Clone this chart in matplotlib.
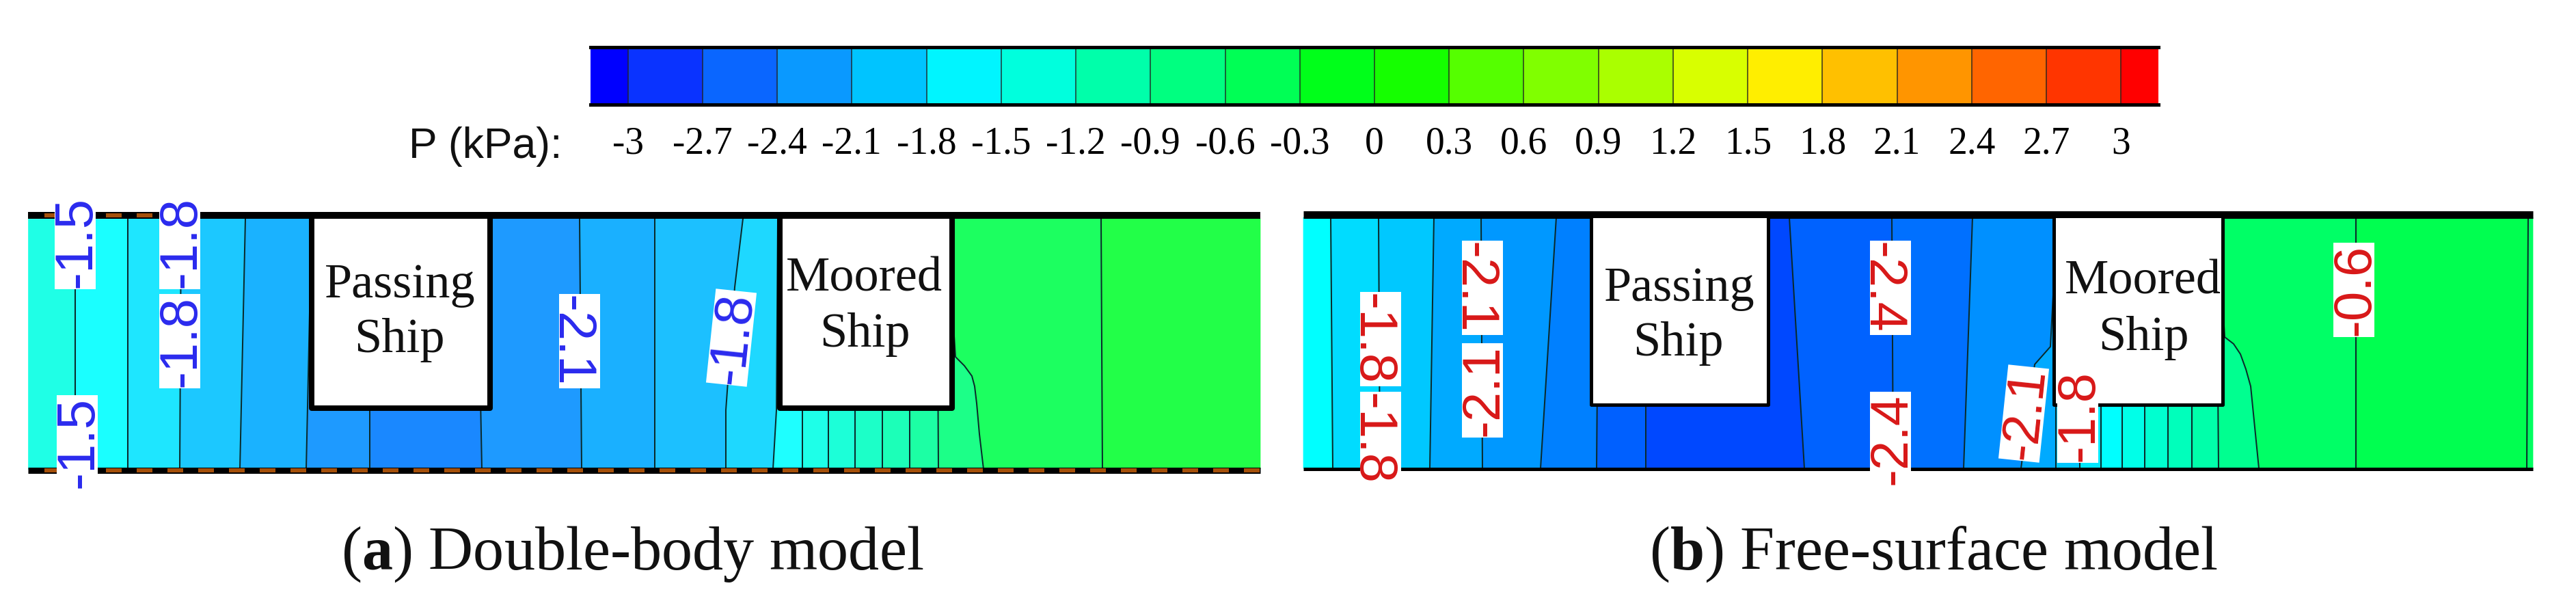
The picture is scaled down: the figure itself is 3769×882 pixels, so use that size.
""" Pressure contours around a passing ship and a moored ship,
    double-body model against free-surface model.
"""
import matplotlib
matplotlib.use('Agg')
import matplotlib.pyplot as plt
import numpy as np

plt.rcParams['font.family'] = ['Liberation Sans', 'DejaVu Sans']
plt.rcParams['lines.scale_dashes'] = False
plt.rcParams['mathtext.fontset'] = 'custom'
plt.rcParams['mathtext.bf'] = 'Liberation Serif:bold'
plt.rcParams['mathtext.rm'] = 'Liberation Serif'

W, H = 3769, 882
PX = 0.72   # one picture pixel in points at dpi 100

# colour scale
P_TICKS = [-3, -2.7, -2.4, -2.1, -1.8, -1.5, -1.2, -0.9, -0.6, -0.3, 0,
           0.3, 0.6, 0.9, 1.2, 1.5, 1.8, 2.1, 2.4, 2.7, 3]
P_EDGES = [-3.15] + P_TICKS + [3.15]
P_COLORS = ['#0000ff', '#0a33ff', '#0a66ff', '#0a99ff', '#00c4ff', '#00f5ff',
            '#00ffdd', '#00ffaa', '#00ff80', '#00ff55', '#00ff1a', '#15ff00',
            '#55ff00', '#80ff00', '#aaff00', '#d8ff00', '#ffee00', '#ffc000',
            '#ff9500', '#ff6500', '#ff3500', '#ff0000']

# contour lines of panel a, left to right: (x positions, y positions)
A_TOP, A_BOT = 320, 686
A_LINES = [
    ([41, 41], [A_TOP, A_BOT]),
    ([110, 110], [A_TOP, A_BOT]),
    ([187, 187], [A_TOP, A_BOT]),
    ([265, 263], [A_TOP, A_BOT]),
    ([359, 351], [A_TOP, A_BOT]),
    ([456, 448], [A_TOP, A_BOT]),
    ([541, 541], [A_TOP, A_BOT]),
    ([698, 705], [A_TOP, A_BOT]),
    ([848, 851], [A_TOP, A_BOT]),
    ([958, 958], [A_TOP, A_BOT]),
    ([1087, 1075, 1062, 1062], [A_TOP, 420, 600, A_BOT]),
    ([1138, 1136, 1131], [A_TOP, 600, A_BOT]),
    ([1174, 1174], [A_TOP, A_BOT]),
    ([1212, 1212], [A_TOP, A_BOT]),
    ([1251, 1251], [A_TOP, A_BOT]),
    ([1291, 1291], [A_TOP, A_BOT]),
    ([1331, 1331], [A_TOP, A_BOT]),
    ([1371, 1373], [A_TOP, A_BOT]),
    ([1385, 1398, 1411, 1422, 1426, 1429, 1433, 1439], [A_TOP, 522, 535, 550, 565, 590, 635, A_BOT]),
    ([1611, 1613], [A_TOP, A_BOT]),
    ([1844, 1844], [A_TOP, A_BOT]),
]
A_BANDS = ['#1fffe6', '#1affff', '#1ee6ff', '#1cc8ff', '#1ab2ff', '#1e9aff',
           '#1a88ff', '#1e9aff', '#1ab0ff', '#1cc0ff', '#1ed8ff', '#1effff',
           '#1effe8', '#1cffd8', '#1cffc8', '#1cffb8', '#1cffa4', '#1cff88',
           '#1cff60', '#22ff48']

# contour lines of panel b
B_TOP, B_BOT = 318, 685
B_LINES = [
    ([1907, 1907], [B_TOP, B_BOT]),
    ([1947, 1950], [B_TOP, B_BOT]),
    ([2017, 2019], [B_TOP, B_BOT]),
    ([2098, 2092], [B_TOP, B_BOT]),
    ([2167, 2169], [B_TOP, B_BOT]),
    ([2277, 2254], [B_TOP, B_BOT]),
    ([2339, 2336], [B_TOP, B_BOT]),
    ([2408, 2408], [B_TOP, B_BOT]),
    ([2618, 2640], [B_TOP, B_BOT]),
    ([2768, 2770], [B_TOP, B_BOT]),
    ([2886, 2873], [B_TOP, B_BOT]),
    ([3010, 3000, 2977, 2957], [B_TOP, 507, 533, B_BOT]),
    ([3008, 3008], [B_TOP, B_BOT]),
    ([3043, 3043], [B_TOP, B_BOT]),
    ([3074, 3074], [B_TOP, B_BOT]),
    ([3105, 3105], [B_TOP, B_BOT]),
    ([3138, 3138], [B_TOP, B_BOT]),
    ([3172, 3172], [B_TOP, B_BOT]),
    ([3207, 3207], [B_TOP, B_BOT]),
    ([3243, 3246], [B_TOP, B_BOT]),
    ([3245, 3255, 3268, 3278, 3286, 3293, 3305], [B_TOP, 493, 503, 518, 540, 565, B_BOT]),
    ([3447, 3447], [B_TOP, B_BOT]),
    ([3699, 3697], [B_TOP, B_BOT]),
    ([3706, 3706], [B_TOP, B_BOT]),
]
B_BANDS = ['#00ffff', '#00dcff', '#00c8ff', '#00aaff', '#0098ff', '#0080ff',
           '#0060ff', '#0048ff', '#0062ff', '#0070ff', '#0090ff', '#00aaff',
           '#00c8ff', '#00e8ff', '#00ffff', '#00ffe8', '#00ffd0', '#00ffbb',
           '#00ffaa', '#00ff90', '#00ff66', '#00ff50', '#00ff60']

# ship outlines: left, right, top, bottom
A_SHIPS = [(456, 717, 316, 597), (1141, 1393, 316, 597)]
B_SHIPS = [(2328, 2587, 316, 592), (3005, 3252, 316, 592)]

# ship names: text, x, baseline y
SHIP_TEXT = [
    ('Passing', 585, 435), ('Ship', 584, 515),
    ('Moored', 1264, 425), ('Ship', 1265, 507),
    ('Passing', 2457, 440), ('Ship', 2455, 520),
    ('Moored', 3135, 430), ('Ship', 3136, 512),
]

# contour labels: text, x, y, rotation
A_LABELS = [
    ('-1.5', 110, 354, 90), ('-1.5', 113, 647, 90),
    ('-1.8', 263, 354, 90), ('-1.8', 263, 499, 90),
    ('-2.1', 848, 499, -90), ('-1.8', 1070, 494, 84),
]
B_LABELS = [
    ('-1.8', 2020, 496, -90), ('-1.8', 2020, 642, -90),
    ('-2.1', 2169, 421, -90), ('-2.1', 2169, 571, 90),
    ('-2.4', 2766, 421, -90), ('-2.4', 2766, 642, 90),
    ('-2.1', 2961, 605, 84), ('-1.8', 3040, 608, 90),
    ('-0.6', 3444, 424, 90),
]
LABEL_LEN, LABEL_THICK = 138, 60
LABEL_BASE = 28     # digit middle to baseline
LABEL_SHIFT = -5    # rotated glyphs land a little to the right


def draw_label(ax, txt, x, y, rot, color):
    # white box turned with the text; y of the axes runs downwards.
    a = np.radians(rot)
    ux, uy = np.cos(a), -np.sin(a)
    vx, vy = np.sin(a), np.cos(a)
    su = np.array([-1, 1, 1, -1]) * LABEL_LEN / 2
    sv = np.array([-1, -1, 1, 1]) * LABEL_THICK / 2
    ax.fill(x + su * ux + sv * vx, y + su * uy + sv * vy, color='white', lw=0, zorder=6)
    ax.text(x + LABEL_BASE * vx + LABEL_SHIFT, y + LABEL_BASE * vy, txt, color=color, fontsize=56,
            rotation=rot, rotation_mode='anchor', ha='center', va='baseline', zorder=7)


def draw_panel(ax, lines, bands, ships, labels, label_color, edge_px):
    # filled bands between neighbouring contour lines.
    for (xa, ya), (xb, yb), col in zip(lines[:-1], lines[1:], bands):
        ax.fill(np.r_[xa, xb[::-1]], np.r_[ya, yb[::-1]], color=col, lw=0.5, zorder=1)
    for xs, ys in lines[1:-1]:
        ax.plot(xs, ys, color='#0a2a2a', lw=2 * PX, zorder=2)
    for x0, x1, y0, y1 in ships:
        ax.fill([x0, x1, x1, x0], [y0, y0, y1, y1], facecolor='white', edgecolor='black',
                lw=edge_px * PX, joinstyle='round', zorder=4)
    for txt, x, y, rot in labels:
        draw_label(ax, txt, x, y, rot, label_color)


fig = plt.figure(figsize=(W / 100, H / 100), dpi=100)
ax = fig.add_axes([0, 0, 1, 1])
ax.set_xlim(0, W)
ax.set_ylim(H, 0)
ax.axis('off')

draw_panel(ax, A_LINES, A_BANDS, A_SHIPS, A_LABELS, '#2a2aee', 8)
draw_panel(ax, B_LINES, B_BANDS, B_SHIPS, B_LABELS, '#d81818', 5)

# channel walls of panel a, with the brown dashes showing through.
ax.plot([41, 1844], [315, 315], color='black', lw=10 * PX, solid_capstyle='butt', zorder=3)
ax.plot([41, 1844], [688, 688], color='black', lw=9 * PX, solid_capstyle='butt', zorder=3)
ax.plot([65, 1844], [688, 688], color='#a5500a', lw=6 * PX, zorder=3,
        dashes=(23 * PX, 22 * PX), dash_capstyle='butt')
ax.plot([65, 225], [315, 315], color='#a5500a', lw=6 * PX, zorder=3,
        dashes=(23 * PX, 22 * PX), dash_capstyle='butt')
# walls of panel b
ax.plot([1907, 3706], [314, 314], color='black', lw=11 * PX, solid_capstyle='butt', zorder=3)
ax.plot([1907, 3706], [686, 686], color='black', lw=5 * PX, solid_capstyle='butt', zorder=3)

for txt, x, y in SHIP_TEXT:
    ax.text(x, y, txt, family='Liberation Serif', fontsize=52, color='#111111',
            ha='center', va='baseline', zorder=5)

# colour bar
cax = fig.add_axes([864 / W, 1 - 153 / H, (3158 - 864) / W, 84 / H])
cax.pcolormesh(P_EDGES, [0, 1], np.arange(22).reshape(1, -1),
               cmap=matplotlib.colors.ListedColormap(P_COLORS),
               edgecolors='none')
cax.vlines(P_TICKS, 0, 1, color='#222222', lw=2 * PX, alpha=0.7)
cax.set_xlim(P_EDGES[0], P_EDGES[-1])
cax.set_ylim(0, 1)
cax.set_xticks(P_TICKS)
cax.set_xticklabels(['%g' % t for t in P_TICKS], family='Liberation Serif', fontsize=40)
cax.set_yticks([])
cax.tick_params(axis='x', length=0, pad=23)
for s in cax.spines.values():
    s.set_visible(False)
cax.spines['top'].set_visible(True)
cax.spines['bottom'].set_visible(True)
cax.spines['top'].set_linewidth(5 * PX)
cax.spines['bottom'].set_linewidth(5 * PX)

ax.text(598, 231, 'P (kPa):', fontsize=45, color='#111111', ha='left', va='baseline')

# captions
ax.text(499, 833, r'($\mathbf{a}$) Double-body model', family='Liberation Serif', fontsize=65,
        ha='left', va='baseline', color='#111111')
ax.text(2413, 833, r'($\mathbf{b}$) Free-surface model', family='Liberation Serif', fontsize=65,
        ha='left', va='baseline', color='#111111')

fig.savefig('out.png', dpi=100)
